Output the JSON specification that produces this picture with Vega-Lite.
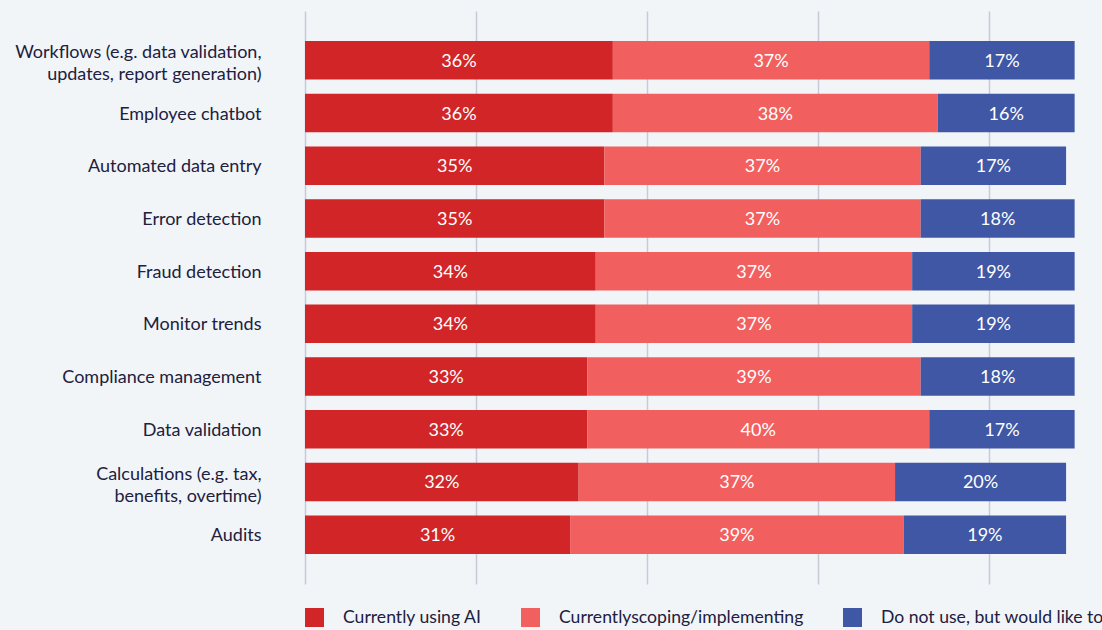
{
  "$schema": "https://vega.github.io/schema/vega-lite/v6.json",
  "autosize": {"type": "none"},
  "width": 797,
  "height": 573,
  "padding": {"left": 305, "top": 11, "right": 0, "bottom": 46},
  "background": "#f2f5f7",
  "config": {
    "view": {"stroke": null},
    "font": "Lato",
    "text": {"font": "Lato"}
  },
  "data": {
    "values": [
      {"task": "Workflows (e.g. data validation, updates, report generation)", "status": "Currently using AI", "value": 0.36},
      {"task": "Workflows (e.g. data validation, updates, report generation)", "status": "Currentlyscoping/implementing", "value": 0.37},
      {"task": "Workflows (e.g. data validation, updates, report generation)", "status": "Do not use, but would like to", "value": 0.17},
      {"task": "Employee chatbot", "status": "Currently using AI", "value": 0.36},
      {"task": "Employee chatbot", "status": "Currentlyscoping/implementing", "value": 0.38},
      {"task": "Employee chatbot", "status": "Do not use, but would like to", "value": 0.16},
      {"task": "Automated data entry", "status": "Currently using AI", "value": 0.35},
      {"task": "Automated data entry", "status": "Currentlyscoping/implementing", "value": 0.37},
      {"task": "Automated data entry", "status": "Do not use, but would like to", "value": 0.17},
      {"task": "Error detection", "status": "Currently using AI", "value": 0.35},
      {"task": "Error detection", "status": "Currentlyscoping/implementing", "value": 0.37},
      {"task": "Error detection", "status": "Do not use, but would like to", "value": 0.18},
      {"task": "Fraud detection", "status": "Currently using AI", "value": 0.34},
      {"task": "Fraud detection", "status": "Currentlyscoping/implementing", "value": 0.37},
      {"task": "Fraud detection", "status": "Do not use, but would like to", "value": 0.19},
      {"task": "Monitor trends", "status": "Currently using AI", "value": 0.34},
      {"task": "Monitor trends", "status": "Currentlyscoping/implementing", "value": 0.37},
      {"task": "Monitor trends", "status": "Do not use, but would like to", "value": 0.19},
      {"task": "Compliance management", "status": "Currently using AI", "value": 0.33},
      {"task": "Compliance management", "status": "Currentlyscoping/implementing", "value": 0.39},
      {"task": "Compliance management", "status": "Do not use, but would like to", "value": 0.18},
      {"task": "Data validation", "status": "Currently using AI", "value": 0.33},
      {"task": "Data validation", "status": "Currentlyscoping/implementing", "value": 0.40},
      {"task": "Data validation", "status": "Do not use, but would like to", "value": 0.17},
      {"task": "Calculations (e.g. tax, benefits, overtime)", "status": "Currently using AI", "value": 0.32},
      {"task": "Calculations (e.g. tax, benefits, overtime)", "status": "Currentlyscoping/implementing", "value": 0.37},
      {"task": "Calculations (e.g. tax, benefits, overtime)", "status": "Do not use, but would like to", "value": 0.20},
      {"task": "Audits", "status": "Currently using AI", "value": 0.31},
      {"task": "Audits", "status": "Currentlyscoping/implementing", "value": 0.39},
      {"task": "Audits", "status": "Do not use, but would like to", "value": 0.19}
    ]
  },
  "encoding": {
    "y": {
      "field": "task",
      "type": "nominal",
      "sort": null,
      "title": null,
      "scale": {"paddingInner": 0.27, "paddingOuter": 0.57},
      "axis": {
        "domain": false,
        "ticks": false,
        "labelPadding": 44,
        "labelFontSize": 18,
        "labelColor": "#20203f",
        "labelFont": "Lato",
        "labelLineHeight": 22,
        "labelLimit": 320,
        "labelOffset": {"condition": {"test": "indexof(datum.value, '(e.g.') >= 0", "value": -7}, "value": 1.5},
        "labelExpr": "datum.value === 'Workflows (e.g. data validation, updates, report generation)' ? ['Workflows (e.g. data validation,', 'updates, report generation)'] : datum.value === 'Calculations (e.g. tax, benefits, overtime)' ? ['Calculations (e.g. tax,', 'benefits, overtime)'] : datum.value"
      }
    },
    "x": {
      "field": "value",
      "type": "quantitative",
      "stack": "zero",
      "title": null,
      "scale": {"domain": [0, 0.932], "nice": false, "zero": true},
      "axis": {
        "values": [0, 0.2, 0.4, 0.6, 0.8],
        "labels": false,
        "ticks": false,
        "domain": false,
        "grid": true,
        "gridColor": "#c6cad9",
        "gridWidth": 1.5
      }
    },
    "order": {"field": "status", "type": "nominal", "sort": "ascending"}
  },
  "layer": [
    {
      "mark": {"type": "bar"},
      "encoding": {
        "color": {
          "field": "status",
          "type": "nominal",
          "scale": {
            "domain": ["Currently using AI", "Currentlyscoping/implementing", "Do not use, but would like to"],
            "range": ["#d12527", "#f25f5f", "#3f57a5"]
          },
          "legend": {
            "title": null,
            "orient": "none",
            "direction": "horizontal",
            "legendX": 0,
            "legendY": 597,
            "symbolType": "square",
            "symbolSize": 361,
            "symbolStrokeWidth": 0,
            "labelFontSize": 17.6,
            "labelFont": "Lato",
            "labelColor": "#20203f",
            "labelOffset": 19,
            "columnPadding": 39,
            "labelLimit": 400
          }
        }
      }
    },
    {
      "mark": {"type": "text", "color": "#ffffff", "fontSize": 18, "font": "Lato", "baseline": "middle", "align": "center", "dy": 1.5},
      "encoding": {
        "x": {"field": "value", "type": "quantitative", "stack": "zero", "bandPosition": 0.5},
        "detail": {"field": "status", "type": "nominal"},
        "text": {"field": "value", "type": "quantitative", "format": ".0%"}
      }
    }
  ]
}
